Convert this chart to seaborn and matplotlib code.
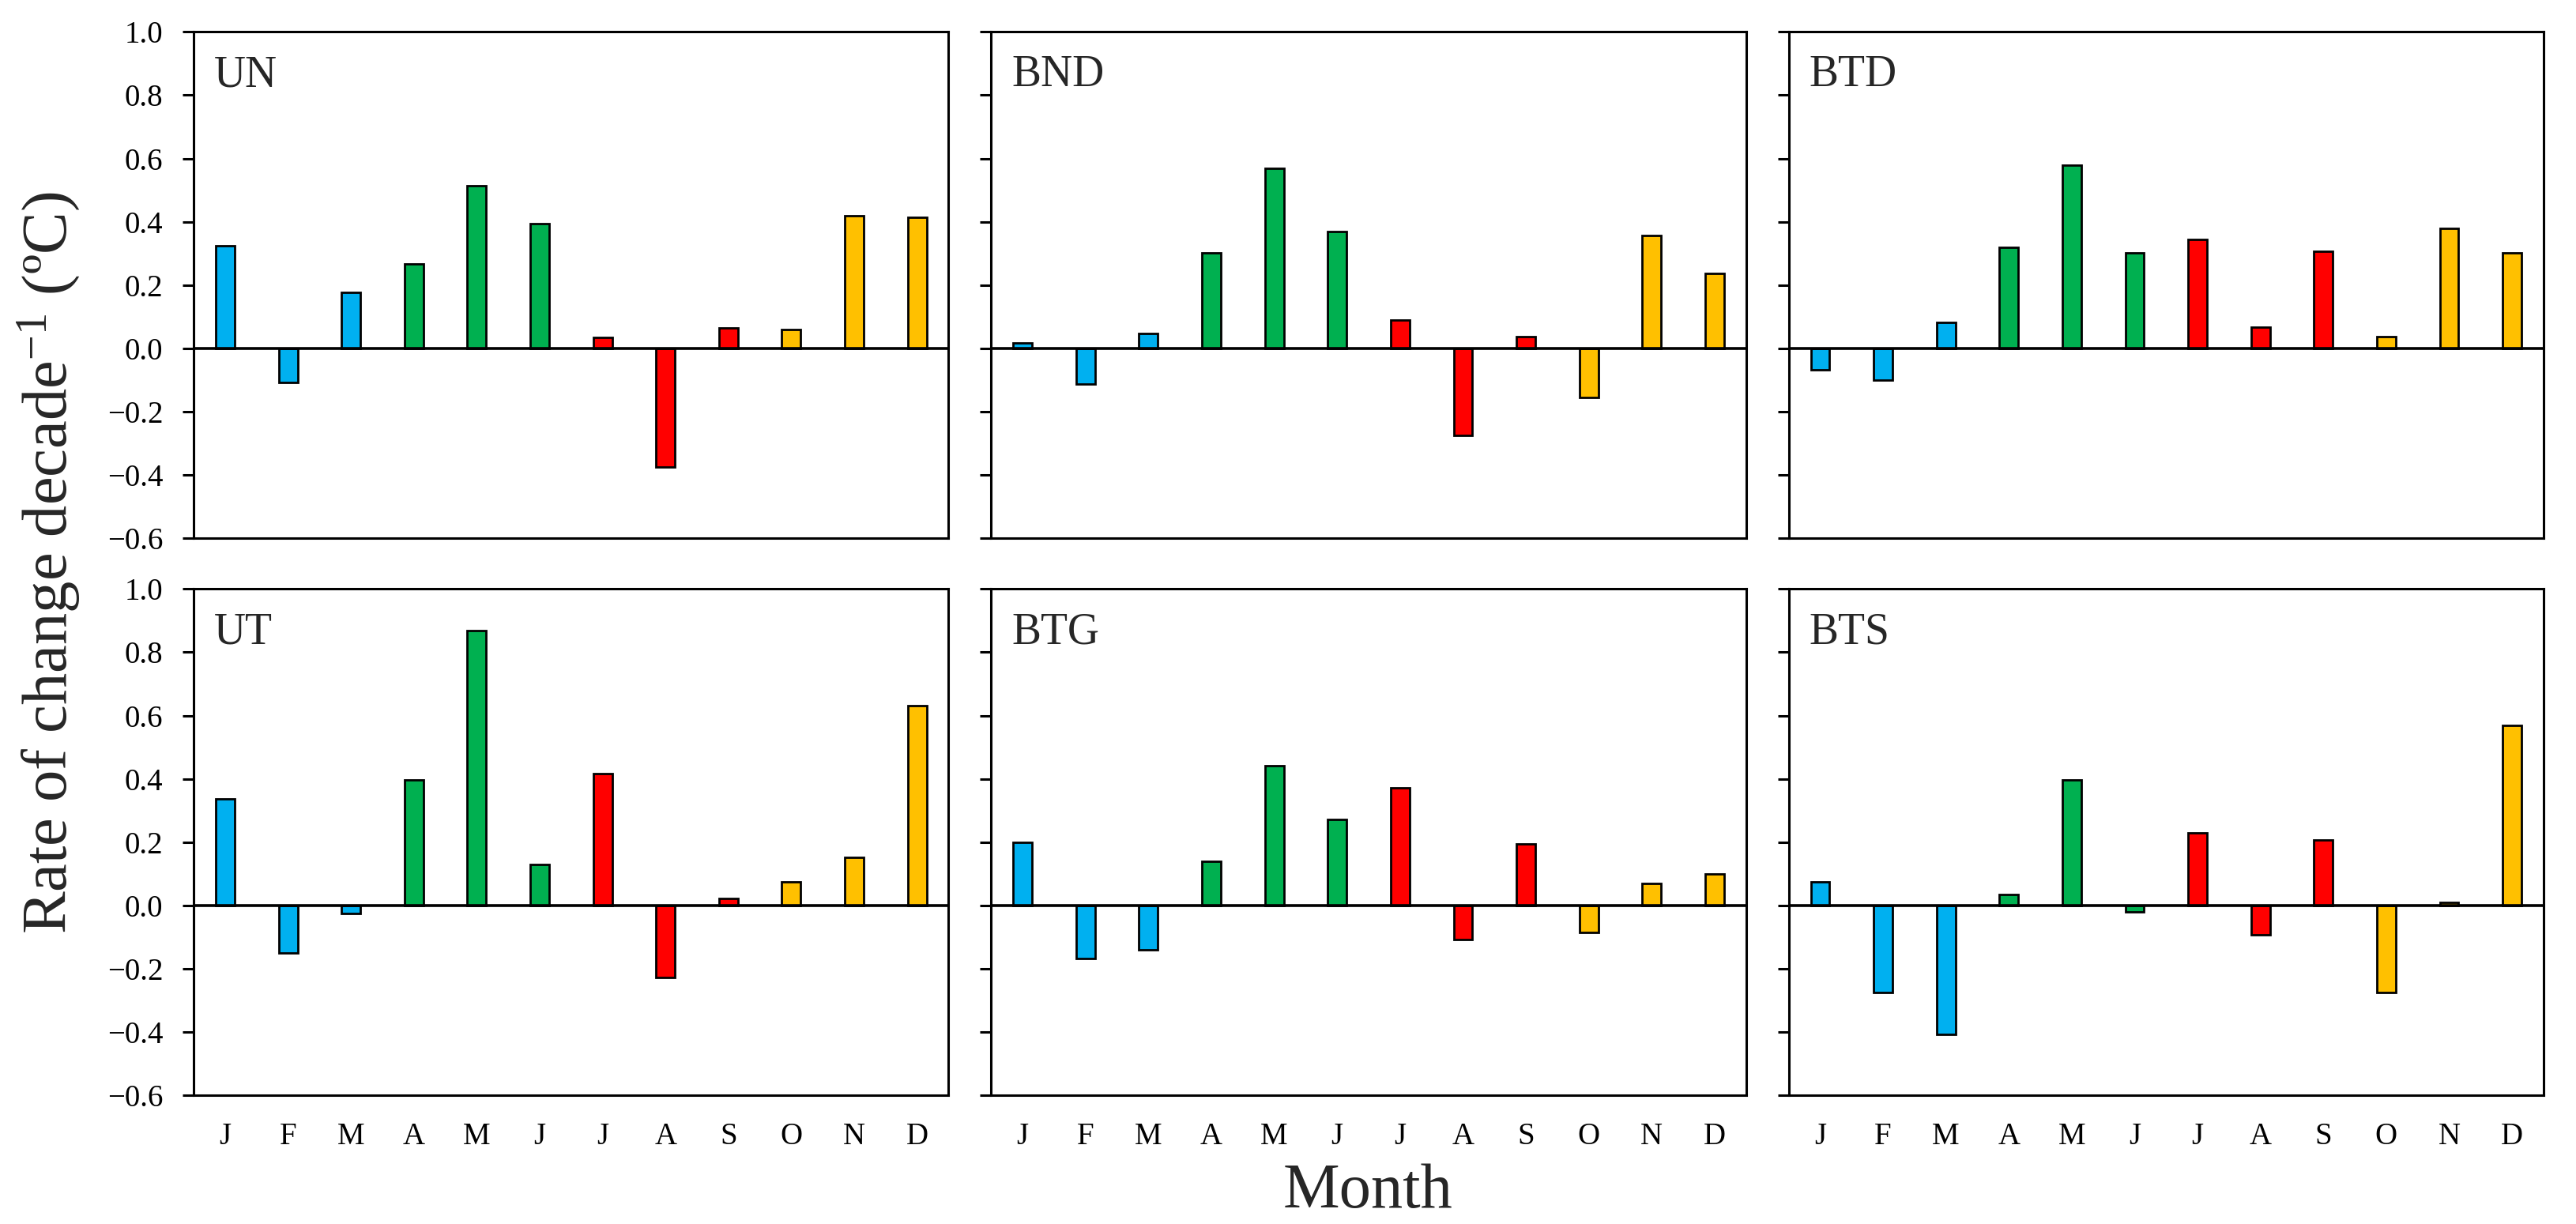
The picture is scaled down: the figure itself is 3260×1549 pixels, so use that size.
import numpy as np
import pandas as pd
import matplotlib
matplotlib.use("Agg")
import matplotlib.pyplot as plt
from matplotlib.ticker import FuncFormatter
import seaborn as sns

# ---------------- data ----------------
months = ["Jan", "Feb", "Mar", "Apr", "May", "Jun",
          "Jul", "Aug", "Sep", "Oct", "Nov", "Dec"]
month_labels = ["J", "F", "M", "A", "M", "J", "J", "A", "S", "O", "N", "D"]
season_of_month = ["JFM", "JFM", "JFM", "AMJ", "AMJ", "AMJ",
                   "JAS", "JAS", "JAS", "OND", "OND", "OND"]
season_order = ["JFM", "AMJ", "JAS", "OND"]
season_colors = ["#00B0F0", "#00B050", "#FF0000", "#FFC000"]

panel_names = ["UN", "BND", "BTD", "UT", "BTG", "BTS"]
UN  = [0.324, -0.108, 0.177, 0.266, 0.514, 0.395, 0.034, -0.375, 0.064, 0.059, 0.420, 0.414]
BND = [0.018, -0.113, 0.048, 0.303, 0.570, 0.368, 0.090, -0.274, 0.037, -0.154, 0.356, 0.238]
BTD = [-0.067, -0.101, 0.083, 0.320, 0.580, 0.302, 0.344, 0.066, 0.308, 0.036, 0.378, 0.302]
UT  = [0.336, -0.150, -0.025, 0.396, 0.869, 0.129, 0.418, -0.226, 0.022, 0.075, 0.151, 0.632]
BTG = [0.200, -0.168, -0.139, 0.140, 0.443, 0.272, 0.372, -0.108, 0.194, -0.086, 0.069, 0.100]
BTS = [0.075, -0.275, -0.406, 0.035, 0.396, -0.021, 0.229, -0.092, 0.206, -0.275, 0.010, 0.568]
panel_values = [UN, BND, BTD, UT, BTG, BTS]

y_ticks = [-0.6, -0.4, -0.2, 0.0, 0.2, 0.4, 0.6, 0.8, 1.0]
y_label = "Rate of change decade$^{-1}$ (ºC)"
x_label = "Month"

# ---------------- style ----------------
sns.set_style("ticks")
plt.rcParams["font.family"] = ["Liberation Serif", "DejaVu Serif"]
plt.rcParams["mathtext.fontset"] = "custom"
plt.rcParams["mathtext.rm"] = "Liberation Serif"
plt.rcParams["mathtext.it"] = "Liberation Serif:italic"
plt.rcParams["axes.unicode_minus"] = True

fig = plt.figure(figsize=(16.3, 7.745), dpi=200)
gs = fig.add_gridspec(2, 3, left=0.0752, right=0.9874, top=0.974, bottom=0.105,
                      wspace=0.0565, hspace=0.1)

fmt = FuncFormatter(lambda v, p: f"{v:.1f}".replace("-", "\u2212"))

for i, (name, vals) in enumerate(zip(panel_names, panel_values)):
    r, c = divmod(i, 3)
    ax = fig.add_subplot(gs[r, c])
    df = pd.DataFrame({"month": months, "rate": vals, "season": season_of_month})
    sns.barplot(data=df, x="month", y="rate", hue="season", order=months,
                hue_order=season_order, palette=season_colors, dodge=False,
                saturation=1, width=0.3, edgecolor="black", linewidth=1.0,
                legend=False, errorbar=None, ax=ax)
    ax.axhline(0, color="black", lw=1.3, zorder=5)
    ax.set_xlim(-0.5, 11.5)
    ax.set_ylim(-0.6, 1.0)
    ax.set_yticks(y_ticks)
    ax.yaxis.set_major_formatter(fmt)
    ax.set_xticks(range(12))
    ax.set_xticklabels(month_labels)
    ax.set_xlabel("")
    ax.set_ylabel("")
    for s in ax.spines.values():
        s.set_linewidth(1.1)
        s.set_color("black")
    ax.tick_params(axis="y", direction="out", length=5, width=1.1,
                   labelsize=14, pad=9, colors="black")
    ax.tick_params(axis="x", length=0, labelsize=14, pad=12, colors="black")
    if c != 0:
        ax.tick_params(axis="y", labelleft=False)
    if r == 0:
        ax.tick_params(axis="x", labelbottom=False)
    ax.text(0.027, 0.955, name, transform=ax.transAxes, ha="left", va="top",
            fontsize=20)

fig.text(0.019, 0.54, y_label, rotation=90, ha="center", va="center", fontsize=29)
fig.text(0.531, 0.026, x_label, ha="center", va="center", fontsize=29)

fig.savefig("out.png", dpi=200)
